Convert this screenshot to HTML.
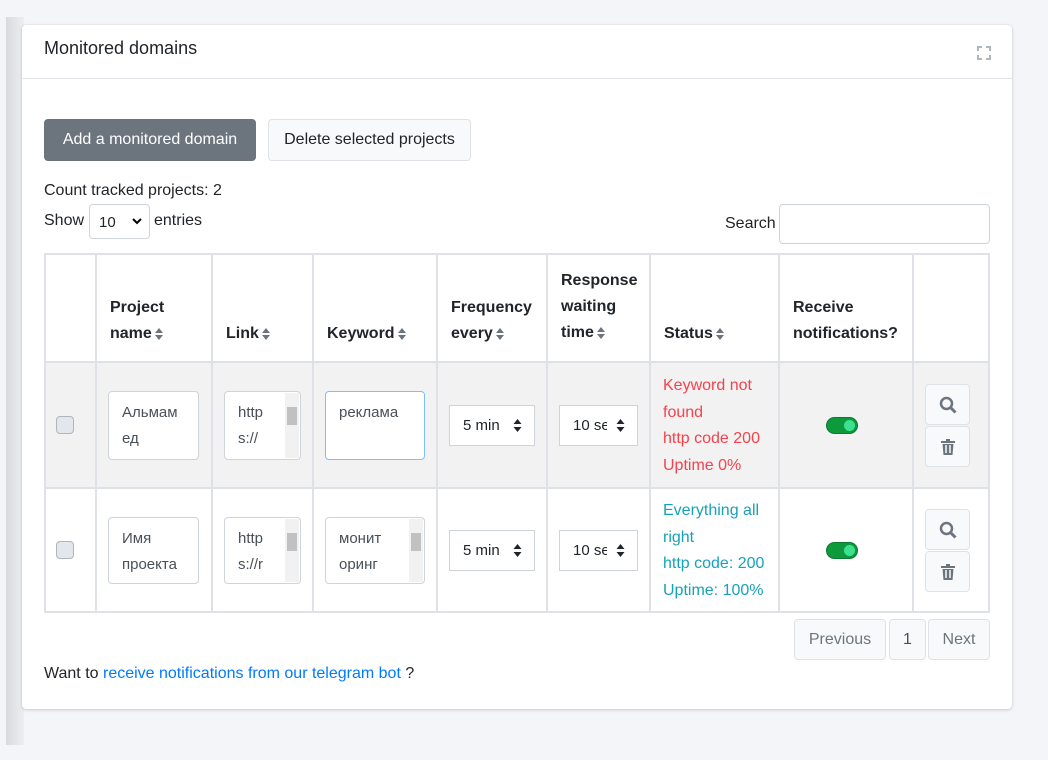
<!DOCTYPE html>
<html><head><meta charset="utf-8">
<style>
*{box-sizing:border-box;margin:0;padding:0}
body{width:1048px;height:760px;background:#f4f5f8;font-family:"Liberation Sans","DejaVu Sans",sans-serif;color:#212529;position:relative;overflow:hidden;font-size:16px}
.a{position:absolute}
.strip{left:6px;top:17px;width:18px;height:728px;background:linear-gradient(to right,#d9dadd,#eceef1)}
.card{left:22px;top:25px;width:990px;height:684px;background:#fff;border-radius:4px;box-shadow:0 0 1px rgba(0,0,0,.2),0 1px 3px rgba(0,0,0,.15)}
.btn{border-radius:4px;display:flex;align-items:center;justify-content:center;font-size:16px}
.th{font-weight:bold;font-size:16px;line-height:26px}
.ta{background:#fff;border:1px solid #ced4da;border-radius:4px;font-size:15px;line-height:26px;padding:8px 0 0 13px;color:#495057}
.sb{position:absolute;right:1px;top:1px;width:14px;bottom:1px;background:#f1f1f1}
.sb:before{content:"";position:absolute;left:2px;top:14px;width:10px;height:18px;background:#c1c1c1}
.sel{background:#fff;border:1px solid #ced4da;font-size:15px;display:flex;align-items:center;padding-left:13px;color:#212529;overflow:hidden}
.car{position:absolute;right:12px;top:13px}
.tog{width:32px;height:17px;border-radius:9px;background:#0d9a3c;border:1px solid #0a7a30}
.tog:after{content:"";position:absolute;right:2px;top:2px;width:11px;height:11px;border-radius:50%;background:#3de08f}
.ib{background:#f8f9fa;border:1px solid #dee2e6;border-radius:4px;width:45px;height:41px;display:flex;align-items:center;justify-content:center}
.cb{width:18px;height:18px;border:1px solid #adb5bd;border-radius:4px;background:#e3e6ea}
.red{color:#f5424d;font-size:16px;line-height:26.5px}
.teal{color:#17a2b8;font-size:16px;line-height:26.5px}
.arr{display:inline-block;vertical-align:middle;margin-left:2px}
</style></head><body>
<div class="a strip"></div>
<div class="a card"></div>
<div class="a" style="left:44px;top:38px;font-size:18px">Monitored domains</div>
<svg class="a" style="left:977px;top:46px" width="14" height="14"><g stroke="#adb5bd" stroke-width="2" fill="none"><path d="M1 5V1h4M9 1h4v4M13 9v4H9M5 13H1V9"/></g></svg>
<div class="a" style="left:23px;top:78px;width:989px;height:1px;background:#dee2e6"></div>
<div class="a btn" style="left:44px;top:119px;width:212px;height:42px;background:#6c757d;color:#fff">Add a monitored domain</div>
<div class="a btn" style="left:268px;top:119px;width:203px;height:42px;background:#f8f9fa;border:1px solid #dee2e6;color:#212529">Delete selected projects</div>
<div class="a" style="left:44px;top:182px">Count tracked projects: 2</div>
<div class="a" style="left:44px;top:212px">Show</div>
<div class="a" style="left:89px;top:204px;width:61px;height:35px;border:1px solid #ced4da;border-radius:4px;padding:9px 0 0 9px;font-size:15px">10</div>
<svg class="a" style="left:132px;top:218px" width="10" height="7"><path d="M1 1l4 4 4-4" stroke="#000" stroke-width="2" fill="none"/></svg>
<div class="a" style="left:154px;top:212px">entries</div>
<div class="a" style="left:725px;top:215px">Search</div>
<div class="a" style="left:779px;top:204px;width:211px;height:40px;border:1px solid #ced4da;border-radius:4px"></div>
<div class="a" style="left:44px;top:362px;width:946px;height:126px;background:#f2f2f2"></div>
<svg class="a" style="left:0;top:0" width="1048" height="760">
<g stroke="#dee2e6" stroke-width="2" fill="none">
<rect x="45" y="254" width="944" height="358"/>
<line x1="45" y1="362" x2="989" y2="362"/><line x1="45" y1="488" x2="989" y2="488"/>
<line x1="96" y1="254" x2="96" y2="612"/><line x1="212" y1="254" x2="212" y2="612"/><line x1="313" y1="254" x2="313" y2="612"/><line x1="437" y1="254" x2="437" y2="612"/><line x1="547" y1="254" x2="547" y2="612"/><line x1="650" y1="254" x2="650" y2="612"/><line x1="779" y1="254" x2="779" y2="612"/><line x1="913" y1="254" x2="913" y2="612"/>
</g></svg>
<div class="a th" style="left:110px;top:295px">Project<br>name<svg class="arr" width="10" height="14"><path d="M5 1l4 5H1zM5 13l4-5H1z" fill="#6c757d"/></svg></div>
<div class="a th" style="left:226px;top:321px">Link<svg class="arr" width="10" height="14"><path d="M5 1l4 5H1zM5 13l4-5H1z" fill="#6c757d"/></svg></div>
<div class="a th" style="left:327px;top:321px">Keyword<svg class="arr" width="10" height="14"><path d="M5 1l4 5H1zM5 13l4-5H1z" fill="#6c757d"/></svg></div>
<div class="a th" style="left:451px;top:295px">Frequency<br>every<svg class="arr" width="10" height="14"><path d="M5 1l4 5H1zM5 13l4-5H1z" fill="#6c757d"/></svg></div>
<div class="a th" style="left:561px;top:268px">Response<br>waiting<br>time<svg class="arr" width="10" height="14"><path d="M5 1l4 5H1zM5 13l4-5H1z" fill="#6c757d"/></svg></div>
<div class="a th" style="left:664px;top:321px">Status<svg class="arr" width="10" height="14"><path d="M5 1l4 5H1zM5 13l4-5H1z" fill="#6c757d"/></svg></div>
<div class="a th" style="left:793px;top:295px">Receive<br>notifications?</div>
<!-- row1 -->
<div class="a cb" style="left:56px;top:416px"></div>
<div class="a ta" style="left:108px;top:391px;width:91px;height:69px">Альмам<br>ед</div>
<div class="a ta" style="left:224px;top:391px;width:77px;height:69px">http<br>s://<div class="sb"></div></div>
<div class="a ta" style="left:325px;top:391px;width:100px;height:69px;border-color:#80bdff">реклама</div>
<div class="a sel" style="left:449px;top:405px;width:86px;height:41px">5 min<svg class="car" width="9" height="13"><path d="M4.5 0l4 5H.5zM4.5 13l4-5H.5z" fill="#212529"/></svg></div>
<div class="a sel" style="left:559px;top:405px;width:79px;height:41px">10 se<div style="position:absolute;right:0;top:0;width:30px;height:39px;background:#fff"></div><svg class="car" width="9" height="13"><path d="M4.5 0l4 5H.5zM4.5 13l4-5H.5z" fill="#212529"/></svg></div>
<div class="a red" style="left:663px;top:373px">Keyword not<br>found<br>http code 200<br>Uptime 0%</div>
<div class="a tog" style="left:826px;top:417px"></div>
<div class="a ib" style="left:925px;top:384px"><svg width="18" height="18"><circle cx="7.5" cy="7.5" r="5.5" stroke="#6c757d" stroke-width="2.5" fill="none"/><path d="M11.5 11.5l5 5" stroke="#6c757d" stroke-width="3"/></svg></div>
<div class="a ib" style="left:925px;top:426px"><svg width="14" height="16"><path d="M0 2h14v2H0zM5 0h4v2H5zM1.5 5h11l-1 11h-9z" fill="#6c757d"/><path d="M5 6v8M9 6v8" stroke="#f8f9fa" stroke-width="1.5"/></svg></div>
<!-- row2 -->
<div class="a cb" style="left:56px;top:541px"></div>
<div class="a ta" style="left:108px;top:517px;width:91px;height:67px">Имя<br>проекта</div>
<div class="a ta" style="left:224px;top:517px;width:77px;height:67px">http<br>s://r<div class="sb"></div></div>
<div class="a ta" style="left:325px;top:517px;width:100px;height:67px">монит<br>оринг<div class="sb"></div></div>
<div class="a sel" style="left:449px;top:530px;width:86px;height:41px">5 min<svg class="car" width="9" height="13"><path d="M4.5 0l4 5H.5zM4.5 13l4-5H.5z" fill="#212529"/></svg></div>
<div class="a sel" style="left:559px;top:530px;width:79px;height:41px">10 se<div style="position:absolute;right:0;top:0;width:30px;height:39px;background:#fff"></div><svg class="car" width="9" height="13"><path d="M4.5 0l4 5H.5zM4.5 13l4-5H.5z" fill="#212529"/></svg></div>
<div class="a teal" style="left:663px;top:498px">Everything all<br>right<br>http code: 200<br>Uptime: 100%</div>
<div class="a tog" style="left:826px;top:542px"></div>
<div class="a ib" style="left:925px;top:509px"><svg width="18" height="18"><circle cx="7.5" cy="7.5" r="5.5" stroke="#6c757d" stroke-width="2.5" fill="none"/><path d="M11.5 11.5l5 5" stroke="#6c757d" stroke-width="3"/></svg></div>
<div class="a ib" style="left:925px;top:551px"><svg width="14" height="16"><path d="M0 2h14v2H0zM5 0h4v2H5zM1.5 5h11l-1 11h-9z" fill="#6c757d"/><path d="M5 6v8M9 6v8" stroke="#f8f9fa" stroke-width="1.5"/></svg></div>
<!-- pagination -->
<div class="a btn" style="left:794px;top:619px;width:92px;height:41px;background:#f8f9fa;border:1px solid #dee2e6;color:#6c757d">Previous</div>
<div class="a btn" style="left:889px;top:619px;width:37px;height:41px;background:#f8f9fa;border:1px solid #dee2e6;color:#495057">1</div>
<div class="a btn" style="left:928px;top:619px;width:62px;height:41px;background:#f8f9fa;border:1px solid #dee2e6;color:#6c757d">Next</div>
<div class="a" style="left:44px;top:665px">Want to <span style="color:#007bff">receive notifications from our telegram bot</span> ?</div>
</body></html>
